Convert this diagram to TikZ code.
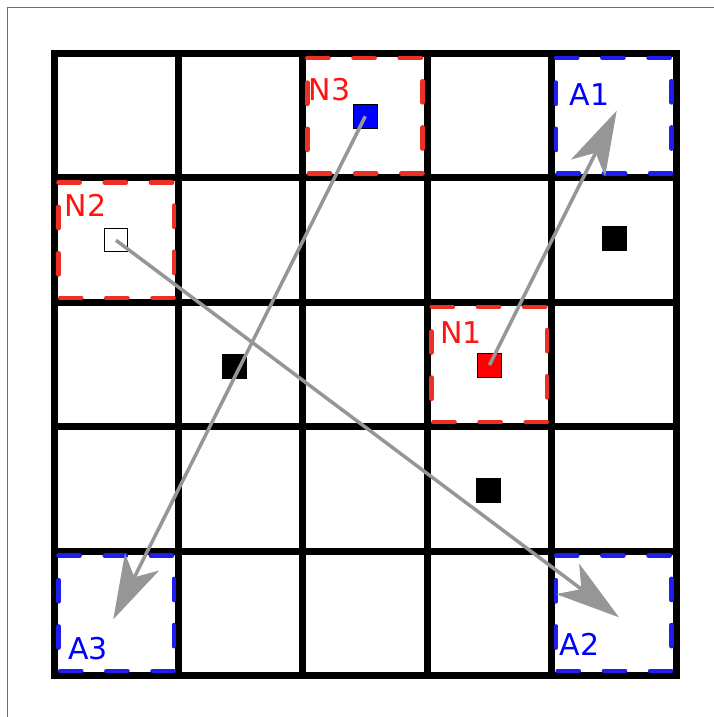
\documentclass[tikz,border=0pt]{standalone}
\usepackage{fontspec}
\setmainfont{DejaVu Sans}
\usetikzlibrary{arrows.meta}
\definecolor{boxred}{RGB}{238,48,36}
\definecolor{txtred}{RGB}{255,20,20}
\definecolor{boxblue}{RGB}{30,30,240}
\definecolor{txtblue}{RGB}{0,0,255}
\definecolor{arrgray}{RGB}{150,150,150}
\definecolor{framegray}{RGB}{110,110,110}
\newcommand{\cellbox}[5]{\draw[#1] (#2,#3) -- (#4,#3) -- (#4,#5) -- (#2,#5) -- cycle;}
\begin{document}
\begin{tikzpicture}[x=1pt,y=-1pt,
  gridline/.style={line width=7pt, black, line cap=rect},
  dashbox/.style={line width=4.5pt, dash pattern=on 21.2pt off 25pt, line cap=round, line join=round},
  redbox/.style={dashbox, draw=boxred},
  bluebox/.style={dashbox, draw=boxblue},
  sq/.style={draw=black, line width=0.8pt, minimum size=24pt, inner sep=0pt, outer sep=0pt},
  lbl/.style={inner sep=0pt, outer sep=0pt, anchor=base west, font=\fontsize{30}{36}\selectfont},
  arr/.style={draw=arrgray, line width=3.5pt, -{Stealth[length=64pt, width=38pt, inset=17pt, fill=arrgray]}}
]
\useasboundingbox (0,0) rectangle (714,717);
% frame
\draw[framegray, line width=1pt] (7.5,717) -- (7.5,7.5) -- (714,7.5);
% grid
\foreach \i in {0,...,5} {
  \draw[gridline] ({54+124.4*\i},53.5) -- ({54+124.4*\i},675.5);
  \draw[gridline] (54,{53.5+124.4*\i}) -- (676,{53.5+124.4*\i});
}
% dashed boxes
\cellbox{redbox}{307.3}{58}{422.7}{173.4}
\cellbox{redbox}{58.5}{182.4}{173.9}{297.8}
\cellbox{redbox}{431.7}{306.8}{547.1}{422.2}
\cellbox{bluebox}{556.1}{58}{671.5}{173.4}
\cellbox{bluebox}{58.5}{555.6}{173.9}{671}
\cellbox{bluebox}{556.1}{555.6}{671.5}{671}
% squares
\node[sq, fill=blue] (n3) at (365.3,116.3) {};
\node[sq, fill=red] (n1) at (489.5,365) {};
\node[sq, fill=white, minimum size=23pt] (n2) at (116,240.3) {};
\node[sq, fill=black] (b1) at (614.5,238) {};
\node[sq, fill=black] (b2) at (234.5,366) {};
\node[sq, fill=black] (b3) at (488,490) {};
% arrow tips
\coordinate (a1tip) at (616.7,110.7);
\coordinate (a3tip) at (113.3,619.3);
\coordinate (a2tip) at (619,617.3);
% arrows
\draw[arr] (n1.center) -- (a1tip);
\draw[arr] (n3.center) -- (a3tip);
\draw[arr] (n2.center) -- (a2tip);
% labels
\node[lbl, text=txtred] (l3) at (308.8,100) {N3};
\node[lbl, text=txtred] (l2) at (64.8,216.7) {N2};
\node[lbl, text=txtred] (l1) at (440.4,343.3) {N1};
\node[lbl, text=txtblue] (la1) at (569.6,105) {A1};
\node[lbl, text=txtblue] (la3) at (68,659.3) {A3};
\node[lbl, text=txtblue] (la2) at (559.6,655) {A2};
\end{tikzpicture}
\end{document}
